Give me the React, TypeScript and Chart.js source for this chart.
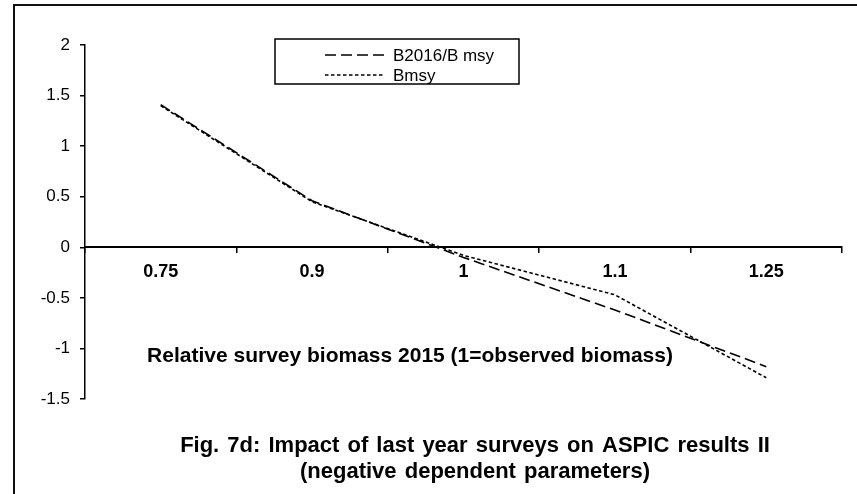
import React, { useEffect, useRef } from "react";
import { Chart, registerables } from "chart.js";

Chart.register(...registerables);

const categories = ["0.75", "0.9", "1", "1.1", "1.25"];
const b2016Values = [1.41, 0.46, -0.1, -0.62, -1.18];
const bmsyValues = [1.4, 0.45, -0.08, -0.47, -1.29];
const seriesLabels = ["B2016/B msy", "Bmsy"];
const xAxisTitle = "Relative survey biomass 2015 (1=observed biomass)";
const chartTitle = [
  "Fig. 7d: Impact of last year surveys on ASPIC results II",
  "(negative dependent parameters)",
];

const FONT = "'Liberation Sans', Arial, sans-serif";

const decorPlugin = {
  id: "decor",
  afterDraw(chart: any) {
    const ctx = chart.ctx;
    const ca = chart.chartArea;
    ctx.save();
    // outer frame (only top and left visible)
    ctx.strokeStyle = "#111";
    ctx.lineWidth = 2;
    ctx.beginPath();
    ctx.moveTo(14, chart.height);
    ctx.lineTo(14, 5);
    ctx.lineTo(chart.width, 5);
    ctx.stroke();

    // axis title inside plot
    ctx.fillStyle = "#000";
    ctx.textAlign = "center";
    ctx.textBaseline = "alphabetic";
    ctx.font = `bold 21px ${FONT}`;
    ctx.fillText(xAxisTitle, ca.left + 325, ca.top + 317);

    // chart title below plot
    ctx.font = `bold 22px ${FONT}`;
    try {
      (ctx as any).wordSpacing = "2px";
    } catch (e) {}
    ctx.fillText(chartTitle[0], ca.left + 390, ca.bottom + 53);
    ctx.fillText(chartTitle[1], ca.left + 390, ca.bottom + 79);
    try {
      (ctx as any).wordSpacing = "0px";
    } catch (e) {}

    // legend
    const lx = 275, ly = 39, lw = 244, lh = 45;
    ctx.fillStyle = "#fff";
    ctx.fillRect(lx, ly, lw, lh);
    ctx.strokeStyle = "#000";
    ctx.lineWidth = 1.5;
    ctx.strokeRect(lx, ly, lw, lh);
    const ds = chart.data.datasets;
    ds.forEach((d: any, i: number) => {
      const y = ly + 16 + i * 20;
      ctx.beginPath();
      ctx.setLineDash(d.borderDash || []);
      ctx.lineWidth = d.borderWidth;
      ctx.strokeStyle = d.borderColor;
      ctx.moveTo(325, y);
      ctx.lineTo(384, y);
      ctx.stroke();
      ctx.setLineDash([]);
      ctx.fillStyle = "#000";
      ctx.textAlign = "left";
      ctx.textBaseline = "middle";
      ctx.font = `17px ${FONT}`;
      ctx.fillText(d.label, 393, y + 1);
    });
    ctx.restore();
  },
};

export default function App() {
  const ref = useRef<HTMLCanvasElement>(null);
  useEffect(() => {
    document.body.style.margin = "0";
    const chart = new Chart(ref.current as HTMLCanvasElement, {
      type: "line",
      data: {
        labels: categories,
        datasets: [
          {
            label: seriesLabels[0],
            data: b2016Values,
            borderColor: "#000",
            borderWidth: 1.6,
            borderDash: [11, 5],
            pointRadius: 0,
            fill: false,
            tension: 0,
          },
          {
            label: seriesLabels[1],
            data: bmsyValues,
            borderColor: "#000",
            borderWidth: 1.6,
            borderDash: [3.5, 2.5],
            pointRadius: 0,
            fill: false,
            tension: 0,
          },
        ],
      },
      options: {
        responsive: false,
        animation: false,
        devicePixelRatio: 1,
        layout: { padding: { left: 14, right: 15, top: 45, bottom: 95 } },
        plugins: {
          legend: { display: false },
          title: { display: false },
          tooltip: { enabled: false },
        },
        scales: {
          x: {
            type: "category",
            position: { y: 0 } as any,
            offset: true,
            grid: {
              offset: true,
              drawOnChartArea: false,
              drawTicks: true,
              tickLength: 5,
              color: "#000",
              lineWidth: 1.5,
            },
            border: { display: true, color: "#000", width: 2 },
            ticks: {
              color: "#000",
              font: { family: FONT, size: 18, weight: "bold" },
              padding: 9,
              maxRotation: 0,
            },
            afterFit: (s: any) => {
              s.height = 0;
            },
          },
          y: {
            min: -1.5,
            max: 2,
            ticks: {
              stepSize: 0.5,
              color: "#000",
              font: { family: FONT, size: 17 },
              padding: 10,
              callback: (v: any) => String(v),
            },
            grid: {
              drawOnChartArea: false,
              drawTicks: true,
              tickLength: 5,
              color: "#000",
              lineWidth: 1.5,
            },
            border: { display: true, color: "#000", width: 1.5 },
            afterFit: (s: any) => {
              s.width = 71;
            },
          },
        },
      },
      plugins: [decorPlugin],
    });
    return () => chart.destroy();
  }, []);
  return (
    <div style={{ position: "fixed", left: 0, top: 0, width: 857, height: 494, background: "#fff" }}>
      <canvas ref={ref} width={857} height={494} style={{ width: 857, height: 494 }} />
    </div>
  );
}
